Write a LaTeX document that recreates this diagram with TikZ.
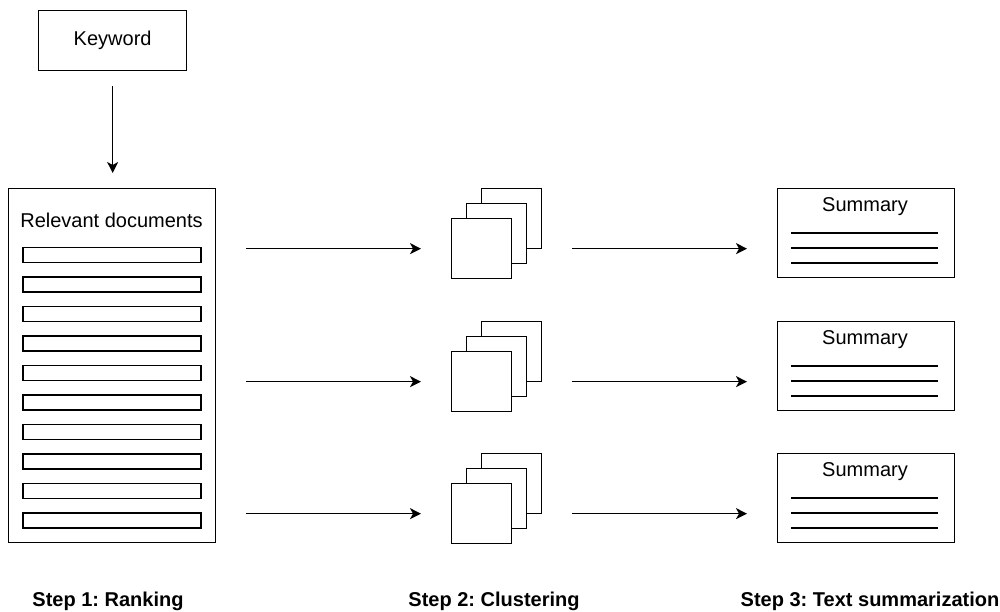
\documentclass[tikz,border=0pt]{standalone}
\usepackage{fontspec}
\setmainfont{Liberation Sans}
\usetikzlibrary{arrows.meta,positioning}
\frenchspacing

\tikzset{
  box/.style={draw, line width=1.3pt, inner sep=0pt, fill=white},
  page/.style={box, minimum width=60pt, minimum height=60pt, anchor=north west},
  sumbox/.style={box, minimum width=177pt, minimum height=89pt, anchor=north west},
  flow/.style={line width=1.3pt, -{Stealth[length=11pt,width=11pt,inset=3pt]}, shorten <=30pt, shorten >=30pt},
  steplabel/.style={font=\fontsize{20}{24}\selectfont\bfseries},
}

\begin{document}
\begin{tikzpicture}[x=1pt,y=-1pt,font=\fontsize{20}{24}\selectfont]
\useasboundingbox (0,0) rectangle (1000,612);

% step 1
\node[box, minimum width=148pt, minimum height=60pt, anchor=north west] (kw) at (38,10) {Keyword};
\node[box, minimum width=207pt, minimum height=354pt, anchor=north west] (docs) at (8,188) {};
\node (docstxt) at (111.5,220) {Relevant documents};
\foreach \i in {0,...,9}
  \draw[line width=1.3pt] (23,{247.5+29.5*\i}) rectangle ++(178,15);
\draw[flow, shorten <=15pt, shorten >=15pt] (kw.south) -- (kw.south |- docs.north);

% steps 2 and 3, one row per cluster
\foreach \t [count=\n] in {188,321,453} {
  \node[page] (back\n) at (481,\t) {};
  \node[page] (mid\n) at (466,{\t+15}) {};
  \node[page] (front\n) at (451,{\t+30}) {};
  \node[sumbox] (sum\n) at (777,\t) {};
  \node (sumtxt\n) at (865,{\t+19}) {Summary};
  \foreach \d in {45,60,75}
    \draw[line width=1.3pt] (791,{\t+\d}) -- ++(147,0);
  \draw[flow] (docs.east |- front\n.center) -- (front\n.west);
  \draw[flow] (back\n.east |- front\n.center) -- (sum\n.west |- front\n.center);
}

% captions
\node[steplabel] (step1) at (108,601) {Step 1: Ranking};
\node[steplabel] (step2) at (494,601) {Step 2: Clustering};
\node[steplabel] (step3) at (870,601) {Step 3: Text summarization};
\end{tikzpicture}
\end{document}
